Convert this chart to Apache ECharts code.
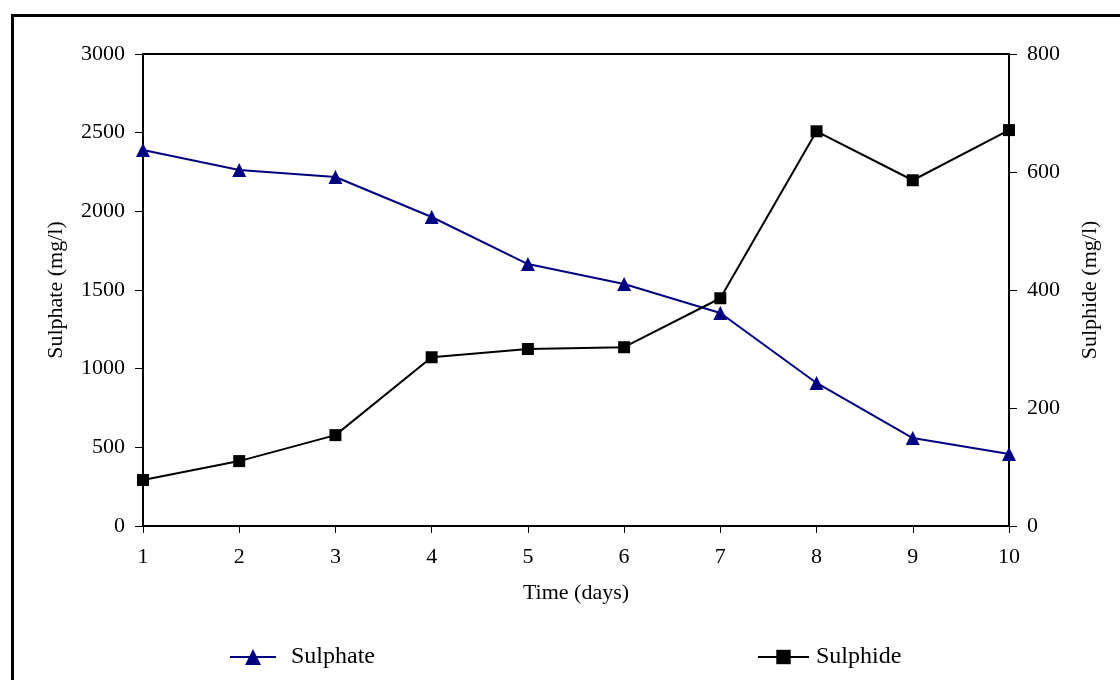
<!DOCTYPE html>
<html>
<head>
<meta charset="utf-8">
<script src="https://cdn.jsdelivr.net/npm/echarts@6/dist/echarts.min.js"></script>
<style>
  html, body { margin: 0; padding: 0; background: #fff; }
  #lineChart { width: 1120px; height: 680px; }
</style>
</head>
<body>
<div id="lineChart"></div>
<script>
// days on the x axis
var days = ['1', '2', '3', '4', '5', '6', '7', '8', '9', '10']
// sulphate, mg/l (left axis)
var sulphate = [2390, 2263, 2218, 1964, 1665, 1538, 1354, 909, 559, 458]
// sulphide, mg/l (right axis)
var sulphide = [78, 110, 154, 286, 300, 303, 386, 669, 586, 671]

var font = 'Liberation Serif, Times New Roman, serif'
var txt = { color: '#000', fontFamily: font, fontSize: 22 }
var plain = function (v) { return String(v) }

var myChart = echarts.init(document.getElementById('lineChart'))
var options = {
  animation: false,
  backgroundColor: '#fff',
  // outer frame, only top and left edges fall inside the picture
  graphic: [{
    type: 'rect',
    left: 10,
    top: 13,
    shape: { width: 1300, height: 900 },
    style: { fill: 'none', stroke: '#000', lineWidth: 3 },
    silent: true
  }],
  grid: {
    left: 143,
    right: 111,
    top: 54,
    bottom: 154,
    show: true,
    borderColor: '#000',
    borderWidth: 2,
    backgroundColor: 'transparent'
  },
  legend: [{
    left: 224,
    top: 640,
    itemWidth: 46,
    itemHeight: 20,
    lineStyle: { width: 2 },
    textStyle: { color: '#000', fontFamily: font, fontSize: 24, padding: [0, 0, 0, 10] },
    data: ['Sulphate']
  }, {
    left: 752,
    top: 640,
    itemWidth: 51,
    itemHeight: 18,
    lineStyle: { width: 2 },
    textStyle: { color: '#000', fontFamily: font, fontSize: 24, padding: [0, 0, 0, 2] },
    data: ['Sulphide']
  }],
  xAxis: {
    type: 'category',
    boundaryGap: false,
    data: days,
    name: 'Time (days)',
    nameLocation: 'middle',
    nameGap: 56,
    nameTextStyle: txt,
    axisLine: { lineStyle: { color: '#000', width: 2 } },
    axisTick: { length: 7, lineStyle: { color: '#000', width: 1 } },
    axisLabel: { margin: 20, color: '#000', fontFamily: font, fontSize: 22 },
    splitLine: { show: false }
  },
  yAxis: [{
    type: 'value',
    min: 0,
    max: 3000,
    interval: 500,
    name: 'Sulphate (mg/l)',
    nameLocation: 'middle',
    nameRotate: 90,
    nameGap: 76,
    nameTextStyle: txt,
    axisLine: { show: true, lineStyle: { color: '#000', width: 2 } },
    axisTick: { show: true, length: 8, lineStyle: { color: '#000', width: 1 } },
    axisLabel: { margin: 18, color: '#000', fontFamily: font, fontSize: 22, formatter: plain },
    splitLine: { show: false }
  }, {
    type: 'value',
    position: 'right',
    min: 0,
    max: 800,
    interval: 200,
    name: 'Sulphide (mg/l)',
    nameLocation: 'middle',
    nameRotate: 90,
    nameGap: 70,
    nameTextStyle: txt,
    axisLine: { show: true, lineStyle: { color: '#000', width: 2 } },
    axisTick: { show: true, length: 8, lineStyle: { color: '#000', width: 1 } },
    axisLabel: { margin: 18, color: '#000', fontFamily: font, fontSize: 22, formatter: plain },
    splitLine: { show: false }
  }],
  series: [
    {
      name: 'Sulphate',
      type: 'line',
      yAxisIndex: 0,
      data: sulphate,
      symbol: 'triangle',
      symbolSize: 14,
      lineStyle: { color: '#000080', width: 2 },
      itemStyle: { color: '#000080' }
    },
    {
      name: 'Sulphide',
      type: 'line',
      yAxisIndex: 1,
      data: sulphide,
      symbol: 'rect',
      symbolSize: 12,
      lineStyle: { color: '#000', width: 2 },
      itemStyle: { color: '#000' }
    }
  ]
}
myChart.setOption(options)
</script>
</body>
</html>
